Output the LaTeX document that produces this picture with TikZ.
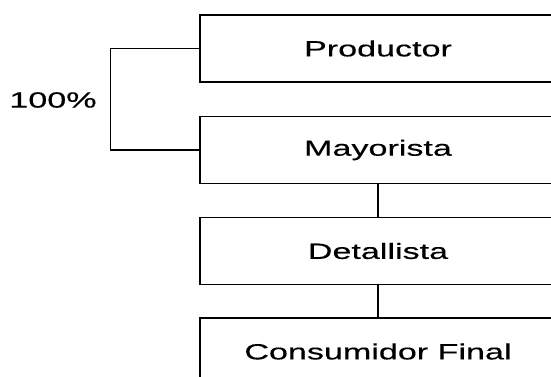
\documentclass[tikz,border=0pt]{standalone}
\usepackage{fontspec}
\newfontfamily\chainfont[FakeStretch=1.55,FakeBold=0.4]{Liberation Sans}
\tikzset{
  stage/.style={draw, line width=1.3pt, minimum width=356pt, minimum height=67pt,
    inner sep=0pt, font=\chainfont\fontsize{22}{26}\selectfont},
  link/.style={line width=1.1pt},
  share/.style={font=\chainfont\fontsize{22}{26}\selectfont, inner sep=0pt}
}
\begin{document}
\begin{tikzpicture}[x=1pt,y=-1pt]
		% Frame
		\useasboundingbox (0,0) rectangle (551,376);
		\clip (0,0) rectangle (551,376);
		% Stages
		\node [stage] (prod) at (378,48.5) {Productor};
		\node [stage] (mayo) at (378,150) {Mayorista};
		\node [stage] (deta) at (378,251) {Detallista};
		\node [stage] (cons) at (378,351.5) {Consumidor Final};
		% Links
		\draw [link] (mayo) -- (deta);
		\draw [link] (deta) -- (cons);
		% Bracket
		\draw [link] (prod.west) -- ++(-89,0) coordinate (brtop) |- (mayo.west);
		\node [share] (pct) at (53,100) {100\%};
	\end{tikzpicture}
\end{document}
